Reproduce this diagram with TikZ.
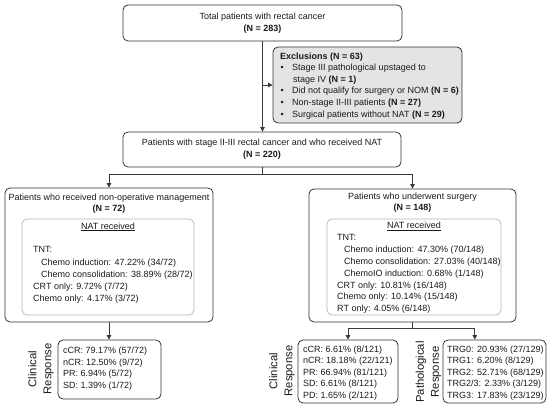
\documentclass[tikz,border=0pt]{standalone}
\usepackage{fontspec}
\setmainfont{Liberation Sans}
\usetikzlibrary{arrows.meta,calc}
\definecolor{bord}{HTML}{333333}
\definecolor{ibord}{HTML}{B4B4B4}
\definecolor{exfill}{HTML}{E4E4E4}
\definecolor{txt}{HTML}{1A1A1A}
\definecolor{conn}{HTML}{3A3A3A}
\begin{document}
\begin{tikzpicture}[x=1pt,y=-1pt,
  every node/.style={inner sep=0pt, text=txt},
  fnt/.style={font=\fontsize{9}{11.8}\selectfont},
  big/.style={font=\fontsize{11.3}{15}\selectfont, rotate=90, align=center},
  box/.style={draw=bord, line width=0.8pt, rounded corners=5pt},
  ibox/.style={draw=ibord, line width=0.7pt, rounded corners=5pt},
  cline/.style={draw=conn, line width=0.8pt},
  arr/.style={cline, -{Triangle[length=4.5pt,width=4.5pt]}},
  lst/.style={fnt, align=left, anchor=north west}
]
\useasboundingbox (0,0) rectangle (550,411);

% top box
\node[box, fnt, align=center, minimum width=279pt, minimum height=36pt] (top) at (262.5,23)
  {Total patients with rectal cancer\\\textbf{(N = 283)}};

% exclusions
\node[box, fill=exfill, minimum width=189pt, minimum height=76pt] (excl) at (367.5,85) {};
\node[lst, font=\fontsize{9}{11.6}\selectfont] (exclt) at (280,52.3)
  {\textbf{Exclusions (N = 63)}\\
   \makebox[12pt][l]{\hspace*{0.5pt}•}Stage III pathological upstaged to\\
   \hspace*{13pt}stage IV \textbf{(N = 1)}\\
   \makebox[12pt][l]{\hspace*{0.5pt}•}Did not qualify for surgery or NOM \textbf{(N = 6)}\\
   \makebox[12pt][l]{\hspace*{0.5pt}•}Non-stage II-III patients \textbf{(N = 27)}\\
   \makebox[12pt][l]{\hspace*{0.5pt}•}Surgical patients without NAT \textbf{(N = 29)}};

% middle box
\node[box, fnt, align=center, minimum width=278pt, minimum height=35pt] (mid) at (262,149.5)
  {Patients with stage II-III rectal cancer and who received NAT\\\textbf{(N = 220)}};

% left branch
\node[box, minimum width=208pt, minimum height=134pt] (L) at (109,255) {};
\node[fnt, align=center, font=\fontsize{9}{11}\selectfont] (Lt) at (109,203.5)
  {Patients who received non-operative management\\\textbf{(N = 72)}};
\node[ibox, minimum width=172pt, minimum height=96pt] (LI) at (108,267) {};
\node[fnt] (LIt) at (108,227) {\underline{NAT received}};
\node[lst, font=\fontsize{9}{12.25}\selectfont] (LIl) at (33,246.5)
  {TNT:\\
   \hspace*{8pt}Chemo induction: 47.22\% (34/72)\\
   \hspace*{8pt}Chemo consolidation: 38.89\% (28/72)\\
   CRT only: 9.72\% (7/72)\\
   Chemo only: 4.17\% (3/72)};

% right branch
\node[box, minimum width=207pt, minimum height=133pt] (R) at (412.5,255.5) {};
\node[fnt, align=center, font=\fontsize{9}{11}\selectfont] (Rt) at (412.5,202.5)
  {Patients who underwent surgery\\\textbf{(N = 148)}};
\node[ibox, minimum width=174pt, minimum height=96pt] (RI) at (414,267) {};
\node[fnt] (RIt) at (414,226) {\underline{NAT received}};
\node[lst, font=\fontsize{9}{11.8}\selectfont] (RIl) at (337,234.5)
  {TNT:\\
   \hspace*{7pt}Chemo induction: 47.30\% (70/148)\\
   \hspace*{7pt}Chemo consolidation: 27.03\% (40/148)\\
   \hspace*{7pt}ChemoIO induction: 0.68\% (1/148)\\
   CRT only: 10.81\% (16/148)\\
   Chemo only: 10.14\% (15/148)\\
   RT only: 4.05\% (6/148)};

% response boxes
\node[box, minimum width=103pt, minimum height=59pt] (CL) at (109.5,369.5) {};
\node[lst, font=\fontsize{9}{11.6}\selectfont] (CLt) at (63,347)
  {cCR: 79.17\% (57/72)\\
   nCR: 12.50\% (9/72)\\
   PR: 6.94\% (5/72)\\
   SD: 1.39\% (1/72)};
\node[big] (CLlab) at (41,369) {Clinical\\Response};

\node[box, minimum width=100pt, minimum height=63pt] (CR) at (348,371.5) {};
\node[lst, font=\fontsize{9}{11.5}\selectfont] (CRt) at (303,345.5)
  {cCR: 6.61\% (8/121)\\
   nCR: 18.18\% (22/121)\\
   PR: 66.94\% (81/121)\\
   SD: 6.61\% (8/121)\\
   PD: 1.65\% (2/121)};
\node[big] (CRlab) at (282,371) {Clinical\\Response};

\node[box, minimum width=103pt, minimum height=63pt] (PB) at (494.5,371.5) {};
\node[lst, font=\fontsize{9}{11.5}\selectfont] (PBt) at (447,345.5)
  {TRG0: 20.93\% (27/129)\\
   TRG1: 6.20\% (8/129)\\
   TRG2: 52.71\% (68/129)\\
   TRG2/3: 2.33\% (3/129)\\
   TRG3: 17.83\% (23/129)};
\node[big] (PBlab) at (428.5,372) {Pathological\\Response};

% connectors
\draw[arr] (top.south) -- (top.south |- mid.north);
\draw[arr] (top.south |- excl.west) -- (excl.west);
\draw[cline] (mid.south) -- ++(0,7) coordinate (j2);
\draw[arr] (j2) -| (L.north);
\draw[arr] (j2) -| (R.north);
\draw[arr] (L.south) -- (L.south |- CL.north);
\draw[cline] (R.south) -- ++(0,6) coordinate (j3);
\coordinate (pin) at ($(PB.north west)!0.31!(PB.north east)$);
\draw[arr] (j3) -| (CR.north);
\draw[arr] (j3) -| (pin);
\end{tikzpicture}
\end{document}
